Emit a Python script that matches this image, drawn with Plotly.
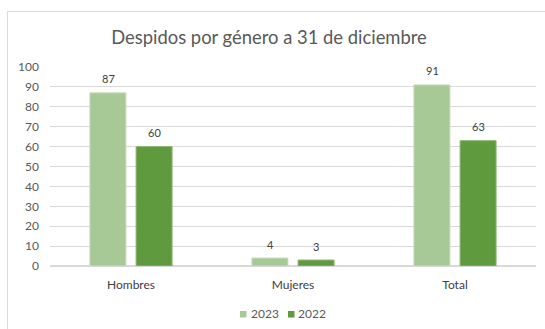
import plotly.graph_objects as go

categories = ["Hombres", "Mujeres", "Total"]
values_2023 = [87, 4, 91]
values_2022 = [60, 3, 63]
series_names = ["2023", "2022"]
y_ticks = list(range(0, 101, 10))

FONT = "Lato"
LIGHT = "#A6C996"
DARK = "#609A3F"
GRID = "#D9D9D9"
COLORS = [LIGHT, DARK]
EDGES = ["#C8DDBB", "#8DB873"]

fig = go.Figure()
for name, vals, col, edge in zip(series_names, [values_2023, values_2022], COLORS, EDGES):
    fig.add_trace(go.Bar(
        name=name, x=categories, y=vals, showlegend=False,
        marker=dict(color=col, line=dict(color=edge, width=1)),
    ))

# value labels centred over each bar of the group
for shift, vals in zip((-23, 23), [values_2023, values_2022]):
    for cat, v in zip(categories, vals):
        fig.add_annotation(x=cat, y=v, text=str(v), showarrow=False,
                           xshift=shift, yshift=14, yanchor="middle",
                           font=dict(size=11, color="#404040", family=FONT))

# legend: small square swatch followed by the series name
legend_x = [(0.3909, 0.4043, 0.4095), (0.4897, 0.5031, 0.5062)]
for name, col, (x0, x1, xt) in zip(series_names, COLORS, legend_x):
    fig.add_shape(type="rect", xref="paper", yref="paper", x0=x0, x1=x1,
                  y0=-0.2261, y1=-0.2588, fillcolor=col, line=dict(width=0))
    fig.add_annotation(xref="paper", yref="paper", x=xt, y=-0.2412, text=name,
                       showarrow=False, xanchor="left", yanchor="middle",
                       font=dict(size=12, color="#595959", family=FONT))

fig.update_layout(
    width=545, height=329,
    margin=dict(l=50, r=9, t=67, b=63),
    paper_bgcolor="white", plot_bgcolor="white",
    font=dict(family=FONT, color="#595959", size=12),
    barmode="group", bargap=0.43, bargroupgap=0.22,
    title=dict(text="Despidos por género a 31 de diciembre",
               x=0.4936, xanchor="center", y=0.8845, yanchor="middle",
               font=dict(size=18.4, color="#595959", family=FONT)),
    showlegend=False,
)
fig.update_yaxes(range=[0, 100], tickvals=y_ticks, showgrid=True, gridcolor=GRID,
                 gridwidth=1, zeroline=True, zerolinecolor=GRID, showline=False,
                 ticks="", tickfont=dict(size=12, color="#595959"), ticklabelstandoff=10,
                 automargin=False)
fig.update_xaxes(showgrid=False, showline=False, ticks="", ticklabelstandoff=10,
                 tickfont=dict(size=12, color="#404040"), automargin=False)

# chart frame: only its left and top edges fall inside the page
fig.add_shape(type="line", xref="paper", yref="paper", x0=-0.0875, x1=1.05, y0=1.279, y1=1.279,
              line=dict(color=GRID, width=1))
fig.add_shape(type="line", xref="paper", yref="paper", x0=-0.0875, x1=-0.0875, y0=1.279, y1=-0.35,
              line=dict(color=GRID, width=1))

fig.write_html("out.html")
